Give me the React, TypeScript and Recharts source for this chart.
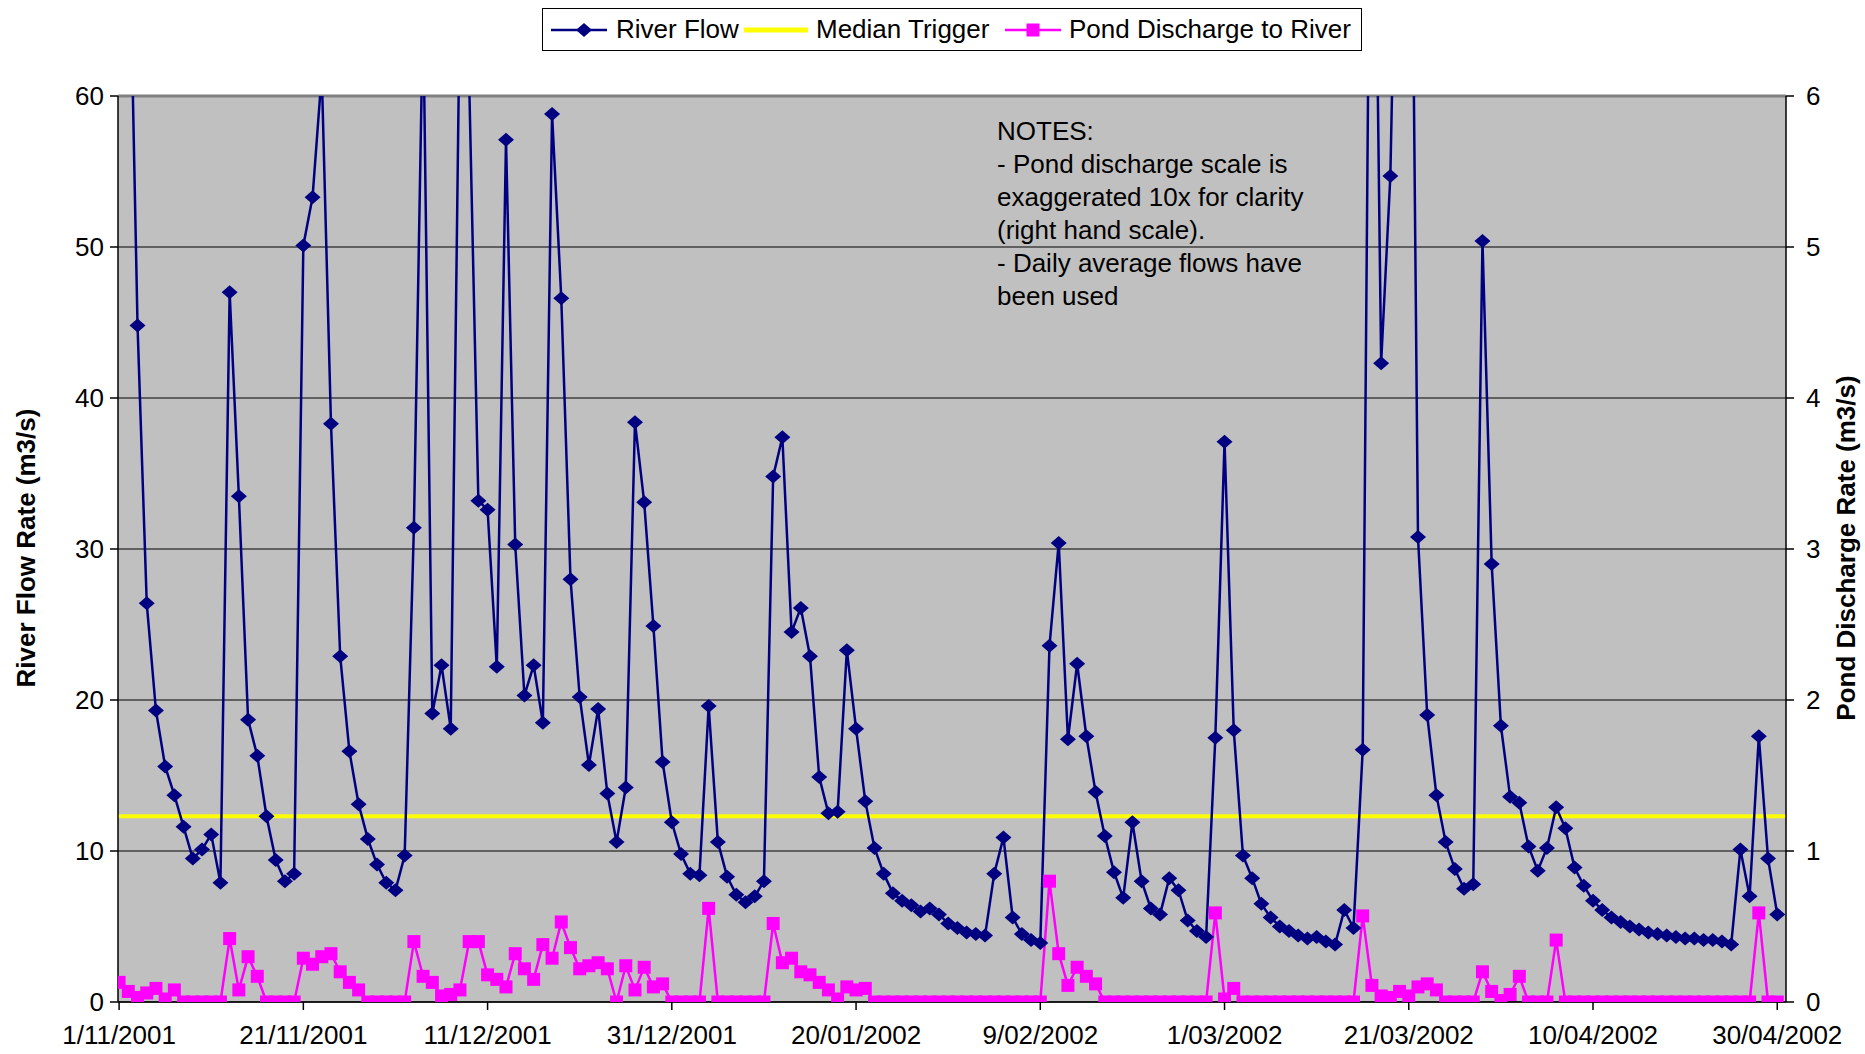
import React from 'react'
import { LineChart, Line, XAxis, YAxis, CartesianGrid, ReferenceLine } from 'recharts'

// daily values, 1/11/2001 .. 30/04/2002 (181 days)
const RIVER_FLOW = [
  85, 75, 44.8, 26.4, 19.3, 15.6, 13.7, 11.6, 9.5, 10.1,
  11.1, 7.9, 47.0, 33.5, 18.7, 16.3, 12.3, 9.4, 8.0, 8.5,
  50.1, 53.3, 61.5, 38.3, 22.9, 16.6, 13.1, 10.8, 9.1, 7.9,
  7.4, 9.7, 31.4, 66, 19.1, 22.3, 18.1, 67, 61, 33.2,
  32.6, 22.2, 57.1, 30.3, 20.3, 22.3, 18.5, 58.8, 46.6, 28.0,
  20.2, 15.7, 19.4, 13.8, 10.6, 14.2, 38.4, 33.1, 24.9, 15.9,
  11.9, 9.8, 8.5, 8.4, 19.6, 10.6, 8.3, 7.1, 6.6, 7.0,
  8.0, 34.8, 37.4, 24.5, 26.1, 22.9, 14.9, 12.5, 12.6, 23.3,
  18.1, 13.3, 10.2, 8.5, 7.2, 6.7, 6.4, 6.0, 6.2, 5.8,
  5.2, 4.9, 4.6, 4.5, 4.4, 8.5, 10.9, 5.6, 4.5, 4.1,
  3.9, 23.6, 30.4, 17.4, 22.4, 17.6, 13.9, 11.0, 8.6, 6.9,
  11.9, 8.0, 6.2, 5.8, 8.2, 7.4, 5.4, 4.7, 4.3, 17.5,
  37.1, 18.0, 9.7, 8.2, 6.5, 5.6, 5.0, 4.7, 4.4, 4.2,
  4.3, 4.0, 3.8, 6.1, 4.9, 16.7, 92, 42.3, 54.7, 85,
  97, 30.8, 19.0, 13.7, 10.6, 8.8, 7.5, 7.8, 50.4, 29.0,
  18.3, 13.6, 13.2, 10.3, 8.7, 10.2, 12.9, 11.5, 8.9, 7.7,
  6.7, 6.1, 5.6, 5.3, 5.0, 4.8, 4.6, 4.5, 4.4, 4.3,
  4.2, 4.2, 4.1, 4.1, 4.0, 3.8, 10.1, 7.0, 17.6, 9.5,
  5.8,
]

const POND_DISCHARGE = [
  0.13, 0.07, 0.03, 0.06, 0.09, 0.02, 0.08, 0, 0, 0,
  0, 0, 0.42, 0.08, 0.30, 0.17, 0, 0, 0, 0,
  0.29, 0.25, 0.30, 0.32, 0.20, 0.13, 0.08, 0, 0, 0,
  0, 0, 0.40, 0.17, 0.13, 0.04, 0.05, 0.08, 0.40, 0.40,
  0.18, 0.15, 0.10, 0.32, 0.22, 0.15, 0.38, 0.29, 0.53, 0.36,
  0.22, 0.24, 0.26, 0.22, 0, 0.24, 0.08, 0.23, 0.10, 0.12,
  0, 0, 0, 0, 0.62, 0, 0, 0, 0, 0,
  0, 0.52, 0.26, 0.29, 0.20, 0.18, 0.13, 0.08, 0.02, 0.10,
  0.08, 0.09, 0, 0, 0, 0, 0, 0, 0, 0,
  0, 0, 0, 0, 0, 0, 0, 0, 0, 0,
  0, 0.80, 0.32, 0.11, 0.23, 0.17, 0.12, 0, 0, 0,
  0, 0, 0, 0, 0, 0, 0, 0, 0, 0.59,
  0.02, 0.09, 0, 0, 0, 0, 0, 0, 0, 0,
  0, 0, 0, 0, 0, 0.57, 0.11, 0.04, 0.03, 0.07,
  0.04, 0.10, 0.12, 0.08, 0, 0, 0, 0, 0.20, 0.07,
  0.01, 0.05, 0.17, 0, 0, 0, 0.41, 0, 0, 0,
  0, 0, 0, 0, 0, 0, 0, 0, 0, 0,
  0, 0, 0, 0, 0, 0, 0, 0, 0.59, 0,
  0,
]

const MEDIAN_TRIGGER = 12.3

const TICK_DAYS = [0, 20, 40, 60, 80, 100, 120, 140, 160, 180]
const DATE_LABELS = [
  '1/11/2001', '21/11/2001', '11/12/2001', '31/12/2001', '20/01/2002',
  '9/02/2002', '1/03/2002', '21/03/2002', '10/04/2002', '30/04/2002',
]
const FLOW_TICKS = [0, 10, 20, 30, 40, 50, 60]
const POND_TICKS = [0, 1, 2, 3, 4, 5, 6]

const NOTES = [
  'NOTES:',
  '- Pond discharge scale is',
  'exaggerated 10x for clarity',
  '(right hand scale).',
  '- Daily average flows have',
  'been used',
]

const data = RIVER_FLOW.map((v, i) => ({ day: i, river: v, pond: POND_DISCHARGE[i] }))

const FONT = '"Liberation Sans", Arial, sans-serif'
const NAVY = '#000080'
const MAGENTA = '#FF00FF'
const tickStyle = { fill: '#000', fontSize: 26, fontFamily: FONT }

function diamond(p: any) {
  const { cx, cy, index } = p
  if (cx == null || cy == null) return <g key={`rd${index}`} />
  return <path key={`rd${index}`} d={`M${cx},${cy - 7}L${cx + 8},${cy}L${cx},${cy + 7}L${cx - 8},${cy}Z`} fill={NAVY} />
}

function square(p: any) {
  const { cx, cy, index } = p
  if (cx == null || cy == null) return <g key={`ps${index}`} />
  return <rect key={`ps${index}`} x={cx - 6.5} y={cy - 6.5} width={13} height={13} fill={MAGENTA} />
}

function Legend() {
  const txt: React.CSSProperties = { position: 'absolute', top: 5, fontSize: 26, lineHeight: '30px', whiteSpace: 'nowrap' }
  return (
    <div style={{ position: 'absolute', left: 542, top: 8, width: 818, height: 41, border: '1px solid #000', background: '#fff', fontFamily: FONT }}>
      <svg style={{ position: 'absolute', left: 8, top: 10 }} width={56} height={22}>
        <line x1={0} y1={11} x2={56} y2={11} stroke={NAVY} strokeWidth={2.5} />
        <path d="M33,4L41,11L33,18L25,11Z" fill={NAVY} />
      </svg>
      <span style={{ ...txt, left: 73 }}>River Flow</span>
      <svg style={{ position: 'absolute', left: 201, top: 10 }} width={64} height={22}>
        <line x1={0} y1={11} x2={64} y2={11} stroke="#FFFF00" strokeWidth={5} />
      </svg>
      <span style={{ ...txt, left: 273 }}>Median Trigger</span>
      <svg style={{ position: 'absolute', left: 462, top: 10 }} width={56} height={22}>
        <line x1={0} y1={11} x2={56} y2={11} stroke={MAGENTA} strokeWidth={2.5} />
        <rect x={21.5} y={4.5} width={13} height={13} fill={MAGENTA} />
      </svg>
      <span style={{ ...txt, left: 526 }}>Pond Discharge to River</span>
    </div>
  )
}

export default function App() {
  const title: React.CSSProperties = {
    position: 'absolute', top: 548, transform: 'translate(-50%, -50%) rotate(-90deg)',
    fontFamily: FONT, fontSize: 26, fontWeight: 'bold', whiteSpace: 'nowrap',
  }
  return (
    <div style={{ position: 'absolute', left: 0, top: 0, width: 1865, height: 1054, background: '#fff' }}>
      <LineChart width={1865} height={1054} data={data} margin={{ top: 96, right: 0, bottom: 0, left: 0 }}>
        <CartesianGrid yAxisId="left" vertical={false} fill="#C0C0C0" stroke="#000" strokeWidth={1} />
        <XAxis
          type="number" dataKey="day" domain={[-0.12, 180.95]} allowDataOverflow
          ticks={TICK_DAYS} interval={0} height={52}
          tickFormatter={(d) => DATE_LABELS[TICK_DAYS.indexOf(d)]}
          tick={tickStyle} tickSize={8} tickMargin={16}
          axisLine={{ stroke: '#000', strokeWidth: 1.5 }} tickLine={{ stroke: '#000', strokeWidth: 1.5 }}
        />
        <YAxis
          yAxisId="left" domain={[0, 60]} ticks={FLOW_TICKS} allowDataOverflow width={118}
          tick={tickStyle} tickSize={8} tickMargin={6}
          axisLine={{ stroke: '#000', strokeWidth: 1.5 }} tickLine={{ stroke: '#000', strokeWidth: 1.5 }}
        />
        <YAxis
          yAxisId="right" orientation="right" domain={[0, 6]} ticks={POND_TICKS} allowDataOverflow width={79}
          tick={tickStyle} tickSize={8} tickMargin={12}
          axisLine={{ stroke: '#000', strokeWidth: 1.5 }} tickLine={{ stroke: '#000', strokeWidth: 1.5 }}
        />
        <ReferenceLine yAxisId="left" y={60} stroke="#808080" strokeWidth={3} />
        <ReferenceLine yAxisId="left" y={MEDIAN_TRIGGER} stroke="#FFFF00" strokeWidth={4} />
        <Line
          yAxisId="left" type="linear" dataKey="river" name="River Flow" stroke={NAVY} strokeWidth={2.5}
          dot={diamond} activeDot={false} isAnimationActive={false}
        />
        <Line
          yAxisId="right" type="linear" dataKey="pond" name="Pond Discharge to River" stroke={MAGENTA} strokeWidth={2.5}
          dot={square} activeDot={false} isAnimationActive={false}
        />
      </LineChart>
      <Legend />
      <div style={{ ...title, left: 26 }}>River Flow Rate (m3/s)</div>
      <div style={{ ...title, left: 1846 }}>Pond Discharge Rate (m3/s)</div>
      <div style={{ position: 'absolute', left: 997, top: 115, fontFamily: FONT, fontSize: 26, lineHeight: '33px', whiteSpace: 'nowrap' }}>
        {NOTES.map((n) => <div key={n}>{n}</div>)}
      </div>
    </div>
  )
}
